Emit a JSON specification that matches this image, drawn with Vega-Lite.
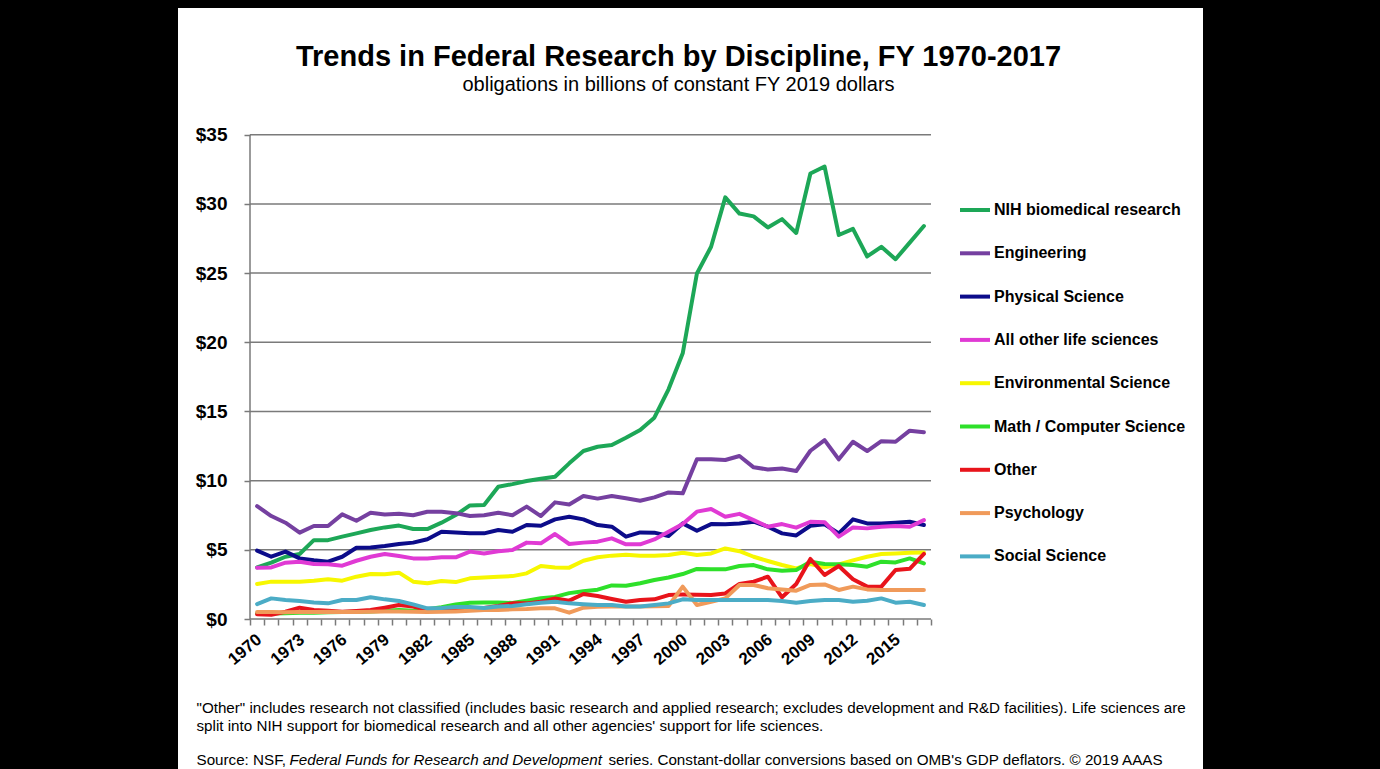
{
  "$schema": "https://vega.github.io/schema/vega-lite/v6.json",
  "width": 1025,
  "height": 761,
  "autosize": {"type": "none"},
  "padding": {"left": 178, "top": 8, "right": 177, "bottom": 0},
  "background": "black",
  "config": {
    "font": "Liberation Sans",
    "view": {"fill": "white", "stroke": null},
    "axis": {"labelColor": "black", "titleColor": "black", "tickColor": "#7a7a7a", "domain": false, "grid": false}
  },
  "title": {
    "text": "Trends in Federal Research by Discipline, FY 1970-2017",
    "subtitle": "obligations in billions of constant FY 2019 dollars",
    "fontSize": 29,
    "fontWeight": "bold",
    "color": "black",
    "subtitleFontSize": 20,
    "subtitleColor": "black",
    "subtitlePadding": 3,
    "anchor": "middle",
    "frame": "group",
    "offset": -87,
    "dx": -12
  },
  "datasets": {
    "spending": [
      {"year":1970,"NIH biomedical research":3.73,"Engineering":8.16,"Physical Science":4.94,"All other life sciences":3.71,"Environmental Science":2.53,"Math / Computer Science":0.4,"Other":0.34,"Psychology":0.5,"Social Science":1.08},
      {"year":1971,"NIH biomedical research":4.07,"Engineering":7.44,"Physical Science":4.5,"All other life sciences":3.73,"Environmental Science":2.7,"Math / Computer Science":0.4,"Other":0.31,"Psychology":0.5,"Social Science":1.49},
      {"year":1972,"NIH biomedical research":4.5,"Engineering":6.96,"Physical Science":4.87,"All other life sciences":4.07,"Environmental Science":2.7,"Math / Computer Science":0.42,"Other":0.53,"Psychology":0.48,"Social Science":1.37},
      {"year":1973,"NIH biomedical research":4.7,"Engineering":6.24,"Physical Science":4.38,"All other life sciences":4.14,"Environmental Science":2.7,"Math / Computer Science":0.45,"Other":0.82,"Psychology":0.5,"Social Science":1.3},
      {"year":1974,"NIH biomedical research":5.7,"Engineering":6.72,"Physical Science":4.24,"All other life sciences":3.97,"Environmental Science":2.77,"Math / Computer Science":0.45,"Other":0.65,"Psychology":0.5,"Social Science":1.2},
      {"year":1975,"NIH biomedical research":5.7,"Engineering":6.72,"Physical Science":4.14,"All other life sciences":3.95,"Environmental Science":2.87,"Math / Computer Science":0.48,"Other":0.6,"Psychology":0.52,"Social Science":1.13},
      {"year":1976,"NIH biomedical research":5.95,"Engineering":7.56,"Physical Science":4.5,"All other life sciences":3.85,"Environmental Science":2.77,"Math / Computer Science":0.5,"Other":0.53,"Psychology":0.5,"Social Science":1.37},
      {"year":1977,"NIH biomedical research":6.19,"Engineering":7.1,"Physical Science":5.15,"All other life sciences":4.21,"Environmental Science":3.06,"Math / Computer Science":0.52,"Other":0.58,"Psychology":0.5,"Social Science":1.37},
      {"year":1978,"NIH biomedical research":6.43,"Engineering":7.68,"Physical Science":5.17,"All other life sciences":4.5,"Environmental Science":3.25,"Math / Computer Science":0.55,"Other":0.65,"Psychology":0.52,"Social Science":1.57},
      {"year":1979,"NIH biomedical research":6.62,"Engineering":7.56,"Physical Science":5.27,"All other life sciences":4.7,"Environmental Science":3.23,"Math / Computer Science":0.6,"Other":0.82,"Psychology":0.55,"Social Science":1.42},
      {"year":1980,"NIH biomedical research":6.75,"Engineering":7.6,"Physical Science":5.42,"All other life sciences":4.55,"Environmental Science":3.35,"Math / Computer Science":0.65,"Other":1.01,"Psychology":0.55,"Social Science":1.3},
      {"year":1981,"NIH biomedical research":6.5,"Engineering":7.5,"Physical Science":5.52,"All other life sciences":4.38,"Environmental Science":2.7,"Math / Computer Science":0.6,"Other":0.9,"Psychology":0.52,"Social Science":1.06},
      {"year":1982,"NIH biomedical research":6.5,"Engineering":7.75,"Physical Science":5.76,"All other life sciences":4.38,"Environmental Science":2.58,"Math / Computer Science":0.7,"Other":0.65,"Psychology":0.5,"Social Science":0.77},
      {"year":1983,"NIH biomedical research":6.96,"Engineering":7.75,"Physical Science":6.31,"All other life sciences":4.46,"Environmental Science":2.75,"Math / Computer Science":0.85,"Other":0.65,"Psychology":0.52,"Social Science":0.8},
      {"year":1984,"NIH biomedical research":7.51,"Engineering":7.65,"Physical Science":6.26,"All other life sciences":4.46,"Environmental Science":2.67,"Math / Computer Science":1.05,"Other":0.7,"Psychology":0.55,"Social Science":0.87},
      {"year":1985,"NIH biomedical research":8.21,"Engineering":7.44,"Physical Science":6.19,"All other life sciences":4.87,"Environmental Science":2.94,"Math / Computer Science":1.18,"Other":0.72,"Psychology":0.6,"Social Science":0.87},
      {"year":1986,"NIH biomedical research":8.24,"Engineering":7.5,"Physical Science":6.19,"All other life sciences":4.74,"Environmental Science":3.0,"Math / Computer Science":1.2,"Other":0.8,"Psychology":0.65,"Social Science":0.8},
      {"year":1987,"NIH biomedical research":9.56,"Engineering":7.68,"Physical Science":6.43,"All other life sciences":4.9,"Environmental Science":3.06,"Math / Computer Science":1.2,"Other":0.95,"Psychology":0.65,"Social Science":0.9},
      {"year":1988,"NIH biomedical research":9.75,"Engineering":7.5,"Physical Science":6.31,"All other life sciences":4.99,"Environmental Science":3.1,"Math / Computer Science":1.15,"Other":1.13,"Psychology":0.7,"Social Science":0.94},
      {"year":1989,"NIH biomedical research":9.97,"Engineering":8.12,"Physical Science":6.79,"All other life sciences":5.52,"Environmental Science":3.3,"Math / Computer Science":1.33,"Other":1.13,"Psychology":0.72,"Social Science":1.06},
      {"year":1990,"NIH biomedical research":10.14,"Engineering":7.44,"Physical Science":6.74,"All other life sciences":5.47,"Environmental Science":3.83,"Math / Computer Science":1.5,"Other":1.25,"Psychology":0.77,"Social Science":1.18},
      {"year":1991,"NIH biomedical research":10.28,"Engineering":8.43,"Physical Science":7.2,"All other life sciences":6.14,"Environmental Science":3.73,"Math / Computer Science":1.6,"Other":1.49,"Psychology":0.77,"Social Science":1.25},
      {"year":1992,"NIH biomedical research":11.25,"Engineering":8.28,"Physical Science":7.39,"All other life sciences":5.42,"Environmental Science":3.71,"Math / Computer Science":1.87,"Other":1.33,"Psychology":0.46,"Social Science":1.13},
      {"year":1993,"NIH biomedical research":12.14,"Engineering":8.89,"Physical Science":7.2,"All other life sciences":5.52,"Environmental Science":4.21,"Math / Computer Science":2.0,"Other":1.81,"Psychology":0.82,"Social Science":1.06},
      {"year":1994,"NIH biomedical research":12.45,"Engineering":8.7,"Physical Science":6.79,"All other life sciences":5.59,"Environmental Science":4.46,"Math / Computer Science":2.12,"Other":1.66,"Psychology":0.88,"Social Science":1.01},
      {"year":1995,"NIH biomedical research":12.57,"Engineering":8.89,"Physical Science":6.67,"All other life sciences":5.83,"Environmental Science":4.58,"Math / Computer Science":2.43,"Other":1.45,"Psychology":0.9,"Social Science":1.01},
      {"year":1996,"NIH biomedical research":13.1,"Engineering":8.72,"Physical Science":5.95,"All other life sciences":5.4,"Environmental Science":4.65,"Math / Computer Science":2.4,"Other":1.25,"Psychology":0.9,"Social Science":0.9},
      {"year":1997,"NIH biomedical research":13.66,"Engineering":8.55,"Physical Science":6.26,"All other life sciences":5.4,"Environmental Science":4.58,"Math / Computer Science":2.58,"Other":1.37,"Psychology":0.9,"Social Science":0.9},
      {"year":1998,"NIH biomedical research":14.55,"Engineering":8.79,"Physical Science":6.24,"All other life sciences":5.75,"Environmental Science":4.58,"Math / Computer Science":2.82,"Other":1.42,"Psychology":0.92,"Social Science":1.01},
      {"year":1999,"NIH biomedical research":16.6,"Engineering":9.15,"Physical Science":6.0,"All other life sciences":6.31,"Environmental Science":4.62,"Math / Computer Science":3.0,"Other":1.73,"Psychology":0.94,"Social Science":1.13},
      {"year":2000,"NIH biomedical research":19.2,"Engineering":9.08,"Physical Science":6.91,"All other life sciences":6.86,"Environmental Science":4.79,"Math / Computer Science":3.25,"Other":1.78,"Psychology":2.34,"Social Science":1.42},
      {"year":2001,"NIH biomedical research":24.97,"Engineering":11.54,"Physical Science":6.38,"All other life sciences":7.76,"Environmental Science":4.62,"Math / Computer Science":3.62,"Other":1.75,"Psychology":1.01,"Social Science":1.37},
      {"year":2002,"NIH biomedical research":26.9,"Engineering":11.54,"Physical Science":6.86,"All other life sciences":7.95,"Environmental Science":4.74,"Math / Computer Science":3.59,"Other":1.73,"Psychology":1.25,"Social Science":1.37},
      {"year":2003,"NIH biomedical research":30.47,"Engineering":11.49,"Physical Science":6.84,"All other life sciences":7.39,"Environmental Science":5.1,"Math / Computer Science":3.59,"Other":1.85,"Psychology":1.49,"Social Science":1.37},
      {"year":2004,"NIH biomedical research":29.3,"Engineering":11.78,"Physical Science":6.91,"All other life sciences":7.6,"Environmental Science":4.9,"Math / Computer Science":3.83,"Other":2.53,"Psychology":2.46,"Social Science":1.37},
      {"year":2005,"NIH biomedical research":29.1,"Engineering":10.96,"Physical Science":7.03,"All other life sciences":7.15,"Environmental Science":4.5,"Math / Computer Science":3.9,"Other":2.7,"Psychology":2.46,"Social Science":1.37},
      {"year":2006,"NIH biomedical research":28.3,"Engineering":10.81,"Physical Science":6.67,"All other life sciences":6.67,"Environmental Science":4.19,"Math / Computer Science":3.59,"Other":3.06,"Psychology":2.22,"Social Science":1.37},
      {"year":2007,"NIH biomedical research":28.9,"Engineering":10.88,"Physical Science":6.19,"All other life sciences":6.86,"Environmental Science":3.9,"Math / Computer Science":3.49,"Other":1.57,"Psychology":2.14,"Social Science":1.3},
      {"year":2008,"NIH biomedical research":27.9,"Engineering":10.69,"Physical Science":6.04,"All other life sciences":6.6,"Environmental Science":3.66,"Math / Computer Science":3.54,"Other":2.53,"Psychology":2.05,"Social Science":1.18},
      {"year":2009,"NIH biomedical research":32.2,"Engineering":12.16,"Physical Science":6.74,"All other life sciences":7.03,"Environmental Science":3.97,"Math / Computer Science":4.14,"Other":4.34,"Psychology":2.46,"Social Science":1.3},
      {"year":2010,"NIH biomedical research":32.7,"Engineering":12.93,"Physical Science":6.84,"All other life sciences":7.0,"Environmental Science":3.73,"Math / Computer Science":3.97,"Other":3.18,"Psychology":2.5,"Social Science":1.37},
      {"year":2011,"NIH biomedical research":27.75,"Engineering":11.54,"Physical Science":6.19,"All other life sciences":5.95,"Environmental Science":3.95,"Math / Computer Science":3.95,"Other":3.83,"Psychology":2.1,"Social Science":1.37},
      {"year":2012,"NIH biomedical research":28.2,"Engineering":12.81,"Physical Science":7.2,"All other life sciences":6.62,"Environmental Science":4.24,"Math / Computer Science":3.9,"Other":2.87,"Psychology":2.34,"Social Science":1.25},
      {"year":2013,"NIH biomedical research":26.2,"Engineering":12.14,"Physical Science":6.91,"All other life sciences":6.55,"Environmental Science":4.5,"Math / Computer Science":3.78,"Other":2.34,"Psychology":2.14,"Social Science":1.32},
      {"year":2014,"NIH biomedical research":26.9,"Engineering":12.85,"Physical Science":6.91,"All other life sciences":6.67,"Environmental Science":4.7,"Math / Computer Science":4.14,"Other":2.34,"Psychology":2.1,"Social Science":1.49},
      {"year":2015,"NIH biomedical research":26.0,"Engineering":12.81,"Physical Science":6.96,"All other life sciences":6.72,"Environmental Science":4.74,"Math / Computer Science":4.09,"Other":3.54,"Psychology":2.1,"Social Science":1.18},
      {"year":2016,"NIH biomedical research":27.2,"Engineering":13.61,"Physical Science":7.03,"All other life sciences":6.67,"Environmental Science":4.79,"Math / Computer Science":4.38,"Other":3.63,"Psychology":2.1,"Social Science":1.25},
      {"year":2017,"NIH biomedical research":28.4,"Engineering":13.49,"Physical Science":6.79,"All other life sciences":7.15,"Environmental Science":4.8,"Math / Computer Science":4.02,"Other":4.7,"Psychology":2.1,"Social Science":1.01}
    ],
    "gridlines": [{"g":0},{"g":5},{"g":10},{"g":15},{"g":20},{"g":25},{"g":30},{"g":35}]
  },
  "layer": [
    {
      "data": {"name": "gridlines"},
      "mark": {"type": "rule", "color": "#7a7a7a", "strokeWidth": 1.5},
      "encoding": {
        "y": {"field": "g", "type": "quantitative",
              "scale": {"domain": [-10.84, 44.157], "nice": false, "zero": false},
              "axis": {"orient": "right", "labels": false, "ticks": false, "domain": false, "grid": false,
                       "title": "series. Constant-dollar conversions based on OMB's GDP deflators. © 2019 AAAS",
                       "titleAngle": 0, "titleX": -595, "titleY": 756, "titleAlign": "left", "titleBaseline": "alphabetic",
                       "titleFontSize": 15.2, "titleFontWeight": "normal"}},
        "x": {"datum": 1969.5, "type": "quantitative",
              "scale": {"domain": [1964.425, 2036.672], "nice": false, "zero": false},
              "axis": {"orient": "top", "labels": false, "ticks": false, "domain": false, "grid": false,
                       "title": "Federal Funds for Research and Development",
                       "titleX": 111, "titleY": 756, "titleAlign": "left", "titleAnchor": "start", "titleBaseline": "alphabetic",
                       "titleFontSize": 15.2, "titleFontWeight": "normal", "titleFontStyle": "italic"}},
        "x2": {"datum": 2017.5}
      }
    },
    {
      "data": {"values": [{}]},
      "mark": {"type": "rule", "color": "#7a7a7a", "strokeWidth": 1.5},
      "encoding": {
        "x": {"datum": 1969.5, "type": "quantitative", "scale": {"domain": [1964.425, 2036.672], "nice": false, "zero": false}, "axis": null},
        "y": {"datum": 0, "type": "quantitative", "scale": {"domain": [-10.84, 44.157], "nice": false, "zero": false}, "axis": null},
        "y2": {"datum": 35}
      }
    },
    {
      "data": {"name": "spending"},
      "transform": [
        {"fold": ["NIH biomedical research", "Engineering", "Physical Science", "All other life sciences", "Environmental Science", "Math / Computer Science", "Other", "Psychology", "Social Science"], "as": ["discipline", "billions"]}
      ],
      "mark": {"type": "line", "strokeWidth": 4, "strokeJoin": "round", "strokeCap": "round"},
      "encoding": {
        "x": {"field": "year", "type": "quantitative",
              "scale": {"domain": [1964.425, 2036.672], "nice": false, "zero": false},
              "axis": {"orient": "bottom", "offset": -150,
                       "values": [1969.5,1970.5,1971.5,1972.5,1973.5,1974.5,1975.5,1976.5,1977.5,1978.5,1979.5,1980.5,1981.5,1982.5,1983.5,1984.5,1985.5,1986.5,1987.5,1988.5,1989.5,1990.5,1991.5,1992.5,1993.5,1994.5,1995.5,1996.5,1997.5,1998.5,1999.5,2000.5,2001.5,2002.5,2003.5,2004.5,2005.5,2006.5,2007.5,2008.5,2009.5,2010.5,2011.5,2012.5,2013.5,2014.5,2015.5,2016.5,2017.5],
                       "tickSize": 6, "tickWidth": 1.5,
                       "labelExpr": "(datum.value - 1969.5) % 3 === 0 && datum.value < 2017 ? toString(datum.value + 0.5) : ''",
                       "labelAngle": -40, "labelOffset": 4, "labelFontSize": 17, "labelFontWeight": "bold", "labelPadding": 6,
                       "labelOverlap": false, "labelFlush": false, "labelBound": false,
                       "title": ["\"Other\" includes research not classified (includes basic research and applied research; excludes development and R&D facilities). Life sciences are", "split into NIH  support for biomedical research and all other agencies' support for life sciences."],
                       "titleX": 18, "titleY": 93, "titleAlign": "left", "titleAnchor": "start", "titleBaseline": "alphabetic",
                       "titleFontSize": 15.2, "titleFontWeight": "normal", "titleLineHeight": 18}},
        "y": {"field": "billions", "type": "quantitative",
              "scale": {"domain": [-10.84, 44.157], "nice": false, "zero": false},
              "axis": {"orient": "left", "offset": -72, "values": [0,5,10,15,20,25,30,35],
                       "labelExpr": "'$' + datum.value", "labelFontSize": 19, "labelFontWeight": "bold",
                       "tickSize": 6, "tickWidth": 1.5, "labelPadding": 17,
                       "title": "Source: NSF,", "titleAngle": 0, "titleX": -54, "titleY": 756, "titleAlign": "left", "titleBaseline": "alphabetic",
                       "titleFontSize": 15.2, "titleFontWeight": "normal"}},
        "color": {"field": "discipline", "type": "nominal",
                  "scale": {"domain": ["NIH biomedical research", "Engineering", "Physical Science", "All other life sciences", "Environmental Science", "Math / Computer Science", "Other", "Psychology", "Social Science"],
                            "range": ["#1da757", "#7540a0", "#0c0c8a", "#e03ad4", "#f7f700", "#2ee02a", "#e8141b", "#f09a5a", "#4bacc6"]},
                  "legend": {"orient": "none", "legendX": 780, "legendY": 185, "title": null, "direction": "vertical",
                             "symbolType": "stroke", "symbolStrokeWidth": 4, "symbolSize": 900,
                             "labelFontSize": 16, "labelFontWeight": "bold", "labelColor": "black", "labelLimit": 300,
                             "labelOffset": 2, "rowPadding": 18.3}}
      }
    }
  ],
  "resolve": {"axis": {"x": "independent", "y": "independent"}}
}
